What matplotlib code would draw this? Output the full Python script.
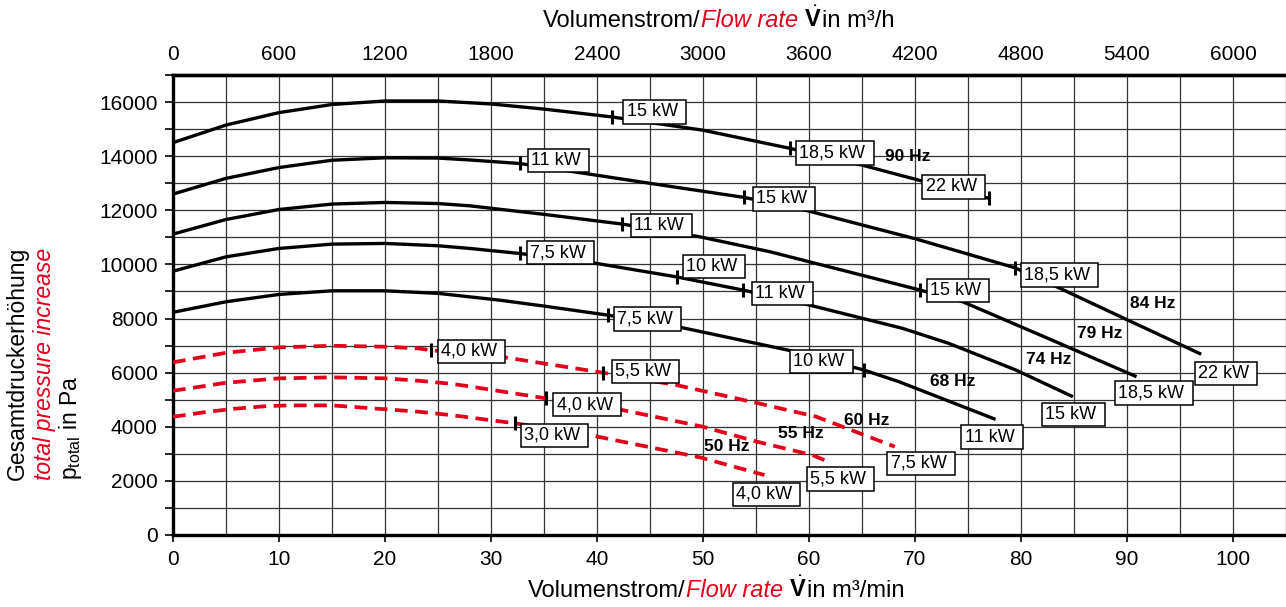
import numpy as np
import matplotlib.pyplot as plt
from matplotlib.ticker import MultipleLocator

plt.rcParams['font.family'] = ['Liberation Sans', 'DejaVu Sans']
plt.rcParams['mathtext.fontset'] = 'custom'
plt.rcParams['mathtext.rm'] = 'Liberation Sans'
plt.rcParams['mathtext.it'] = 'Liberation Sans:italic'
plt.rcParams['mathtext.bf'] = 'Liberation Sans:bold'

RED = '#e2001a'

# fan curves: flow rate in m3/min, total pressure increase in Pa
q90 = [0, 5, 10, 15, 20, 25, 30, 35, 41.4, 50, 58.2, 65, 70.4, 77.0]
p90 = [14500, 15150, 15610, 15910, 16040, 16040, 15930, 15740, 15450, 14960, 14290, 13670, 13110, 12440]

q84 = [0, 5, 10, 15, 20, 25, 28, 32.7, 39.9, 46.8, 53.9, 59.4, 70.0, 79.4, 83.6, 90.2, 97.0]
p84 = [12600, 13180, 13580, 13850, 13940, 13930, 13860, 13730, 13300, 12890, 12475, 12030, 10950, 9880, 9130, 7920, 6680]

q79 = [0, 5, 10, 15, 20, 25, 28, 35, 42.4, 49.7, 56.3, 63, 70.5, 74.5, 82.7, 90.9]
p79 = [11120, 11660, 12030, 12230, 12290, 12250, 12165, 11850, 11490, 11020, 10470, 9800, 9050, 8620, 7240, 5850]

q74 = [0, 5, 10, 15, 20, 25, 28, 32.7, 39.9, 47.5, 53.8, 60.0, 68.8, 73.2, 79.5, 84.9]
p74 = [9750, 10280, 10590, 10750, 10775, 10690, 10590, 10405, 10040, 9540, 9050, 8500, 7640, 7080, 6100, 5110]

q68 = [0, 5, 10, 15, 20, 25, 30.8, 35, 41.0, 47.9, 58.0, 65.2, 68.5, 77.6]
p68 = [8230, 8620, 8890, 9025, 9025, 8930, 8680, 8460, 8127, 7672, 6834, 6095, 5663, 4274]

q60 = [0, 5, 10, 15, 20.2, 23.2, 24.3, 31.4, 40.6, 47.5, 55.0, 60.7, 68.1]
p60 = [6380, 6735, 6934, 6993, 6956, 6895, 6830, 6560, 5996, 5541, 4887, 4370, 3263]

q55 = [0, 5, 10, 15, 20, 23.2, 26.2, 27.5, 35.2, 42.4, 50.0, 55.1, 60.3, 61.6]
p55 = [5330, 5626, 5789, 5826, 5790, 5700, 5590, 5520, 5050, 4618, 4001, 3448, 2955, 2746]

q50 = [0, 3.3, 5.8, 8.9, 11, 15, 20.2, 23.2, 26.2, 32.3, 39.3, 49.7, 55.8]
p50 = [4370, 4555, 4666, 4765, 4790, 4790, 4642, 4555, 4433, 4126, 3694, 2870, 2216]

# motor power change marks on the curves
mark_q = [41.4, 58.2, 77.0, 32.7, 53.9, 79.4, 42.4, 70.5, 32.7, 47.5, 53.8, 41.0, 65.2, 24.3, 40.6, 35.2, 32.3]
mark_p = [15450, 14290, 12440, 13730, 12475, 9880, 11490, 9050, 10405, 9540, 9050, 8127, 6095, 6830, 5996, 5050, 4126]

# power labels (box left edge, vertical centre)
kw_text = ['15 kW', '18,5 kW', '22 kW', '11 kW', '15 kW', '18,5 kW', '22 kW', '11 kW', '15 kW', '18,5 kW',
           '7,5 kW', '10 kW', '11 kW', '15 kW', '7,5 kW', '10 kW', '11 kW', '4,0 kW', '5,5 kW', '7,5 kW',
           '4,0 kW', '5,5 kW', '3,0 kW', '4,0 kW']
kw_x = [42.4, 58.7, 70.6, 33.4, 54.6, 79.9, 96.3, 43.1, 71.0, 88.8,
        33.3, 48.0, 54.5, 81.9, 41.5, 58.1, 74.3, 24.9, 41.3, 67.3,
        35.8, 59.7, 32.7, 52.7]
kw_y = [15637, 14118, 12867, 13846, 12424, 9605, 5973, 11433, 9032, 5246,
        10436, 9926, 8929, 4445, 7985, 6417, 3613, 6790, 6047, 2649,
        4815, 2075, 3683, 1503]

# speed labels
hz_text = ['90 Hz', '84 Hz', '79 Hz', '74 Hz', '68 Hz', '60 Hz', '55 Hz', '50 Hz']
hz_x = [69.3, 92.4, 87.4, 82.6, 73.6, 65.4, 59.2, 52.2]
hz_y = [13974, 8559, 7451, 6490, 5663, 4248, 3757, 3263]

top_ticks = [0, 600, 1200, 1800, 2400, 3000, 3600, 4200, 4800, 5400, 6000]

fig = plt.figure(figsize=(12.86, 6.07), dpi=100)
ax = fig.add_axes([173 / 1286, 72 / 607, 1 - 173 / 1286, 460 / 607])

# black curves for the high speeds, red dashed for the low ones
for q, p in [(q90, p90), (q84, p84), (q79, p79), (q74, p74), (q68, p68)]:
    ax.plot(q, p, color='black', lw=2.4, zorder=3, solid_capstyle='butt', solid_joinstyle='round')
for q, p in [(q60, p60), (q55, p55), (q50, p50)]:
    ax.plot(q, p, color=RED, lw=2.7, zorder=3, dashes=(3.4, 2.0), dash_capstyle='butt')

ax.plot(mark_q, mark_p, ls='none', marker='|', color='black', ms=10, mew=2.2, zorder=4)

for t, x, y in zip(kw_text, kw_x, kw_y):
    ax.annotate(t + ' ', (x, y), xytext=(3, 0), textcoords='offset points', ha='left', va='center',
                fontsize=13, zorder=5,
                bbox=dict(boxstyle='square,pad=0.18', fc='white', ec='black', lw=1.1))

for t, x, y in zip(hz_text, hz_x, hz_y):
    ax.text(x, y, t, ha='center', va='center', fontsize=12.5, fontweight='bold', zorder=5)

ax.set_xlim(0, 105)
ax.set_ylim(0, 17000)
ax.xaxis.set_major_locator(MultipleLocator(10))
ax.xaxis.set_minor_locator(MultipleLocator(5))
ax.yaxis.set_major_locator(MultipleLocator(2000))
ax.yaxis.set_minor_locator(MultipleLocator(1000))
ax.grid(which='both', color='#333333', lw=0.9, zorder=0)
ax.set_axisbelow(True)

ax.tick_params(axis='x', which='major', length=5, width=1.2, pad=6, labelsize=15)
ax.tick_params(axis='x', which='minor', length=0)
ax.tick_params(axis='y', which='both', length=6, width=1.2, pad=5, labelsize=15)

for s in ['left', 'bottom', 'top']:
    ax.spines[s].set_linewidth(2.4)
ax.spines['right'].set_visible(False)

sec = ax.secondary_xaxis('top', functions=(lambda v: v * 60, lambda v: v / 60))
sec.set_xticks(top_ticks)
sec.tick_params(length=0, pad=8, labelsize=15)
sec.spines['top'].set_linewidth(2.4)


def title_row(x, y, parts):
    # chain text pieces left to right in figure coords
    s, kw = parts[0]
    t = fig.text(x, y, s, ha='left', va='bottom', fontsize=17, **kw)
    for s, kw in parts[1:]:
        t = ax.annotate(s, xy=(1, 0), xycoords=t, ha='left', va='bottom', fontsize=17,
                        annotation_clip=False, **kw)
    return t


vdot = r' $\dot{\mathbf{V}}$'
title_row(543 / 1286, 1 - 32 / 607,
          [('Volumenstrom/', {}), ('Flow rate', dict(color=RED, style='italic')),
           (vdot, {}), ('in m³/h', {})])
title_row(528 / 1286, 1 - 602 / 607,
          [('Volumenstrom/', {}), ('Flow rate', dict(color=RED, style='italic')),
           (vdot, {}), ('in m³/min', {})])

fig.text(17.5 / 1286, 1 - 480 / 607, 'Gesamtdruckerhöhung', rotation=90, ha='center', va='bottom', fontsize=16.5)
fig.text(45 / 1286, 1 - 480 / 607, 'total pressure increase', rotation=90, ha='center', va='bottom',
         fontsize=16.5, color=RED, style='italic')
fig.text(71 / 1286, 1 - 480 / 607, r'p$_{\mathregular{total}}$ in Pa', rotation=90, ha='center', va='bottom',
         fontsize=16.5)

fig.savefig('out.png', dpi=100)
